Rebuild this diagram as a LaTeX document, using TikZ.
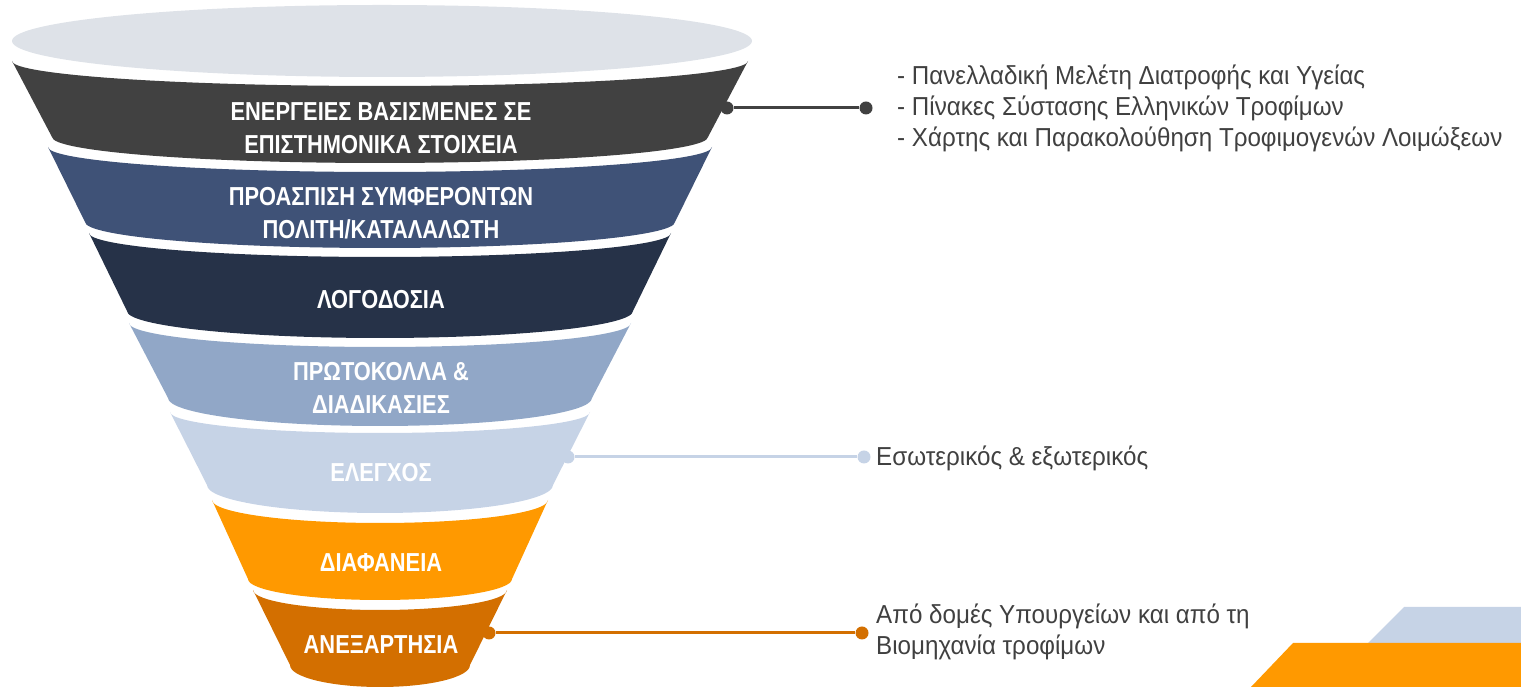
\documentclass[tikz,border=0pt]{standalone}
\usepackage{fontspec}
\setmainfont{Liberation Sans}
\newfontfamily\bandfont[FakeStretch=0.84]{Liberation Sans}
\newfontfamily\notefont[FakeStretch=0.93]{Liberation Sans}
\definecolor{rim}{HTML}{DEE2E8}
\definecolor{c1}{HTML}{414141}
\definecolor{c2}{HTML}{3F5277}
\definecolor{c3}{HTML}{263248}
\definecolor{c4}{HTML}{91A7C7}
\definecolor{c5}{HTML}{C6D3E6}
\definecolor{c6}{HTML}{FF9900}
\definecolor{c7}{HTML}{D36F00}
\definecolor{notegray}{HTML}{404040}
\begin{document}
\begin{tikzpicture}[x=1pt,y=1pt,
	band/.style={font=\bandfont\bfseries\fontsize{26}{33}\selectfont, text=white, align=center, inner sep=0},
	note/.style={font=\notefont\fontsize{26}{31}\selectfont, text=notegray, align=left, anchor=west, inner sep=0},
	dot/.style={circle, inner sep=0, minimum size=13pt}]
	\useasboundingbox (0,0) rectangle (1521,687);
	
	% funnel
	\fill[rim] (382,646) ellipse [x radius=370pt, y radius=36pt];
	\fill[c1] (12,626) arc[start angle=180, end angle=360, x radius=368pt, y radius=25pt] -- (708,550) arc[start angle=0, end angle=-180, x radius=328pt, y radius=26pt] -- cycle;
	\fill[c2] (48,540) arc[start angle=180, end angle=360, x radius=332pt, y radius=25pt] -- (675,465) arc[start angle=0, end angle=-180, x radius=295pt, y radius=26pt] -- cycle;
	\fill[c3] (89,454) arc[start angle=180, end angle=360, x radius=291pt, y radius=24pt] -- (633,376) arc[start angle=0, end angle=-180, x radius=253pt, y radius=27pt] -- cycle;
	\fill[c4] (129,364) arc[start angle=180, end angle=360, x radius=251pt, y radius=24pt] -- (592,289) arc[start angle=0, end angle=-180, x radius=212pt, y radius=28pt] -- cycle;
	\fill[c5] (170,275) arc[start angle=180, end angle=360, x radius=210pt, y radius=21pt] -- (553,202) arc[start angle=0, end angle=-180, x radius=173pt, y radius=28pt] -- cycle;
	\fill[c6] (212,187) arc[start angle=180, end angle=360, x radius=168pt, y radius=23pt] -- (512,108) arc[start angle=0, end angle=-180, x radius=132pt, y radius=21pt] -- cycle;
	\fill[c7] (253,97) arc[start angle=180, end angle=360, x radius=127pt, y radius=20pt] -- (470,22) arc[start angle=0, end angle=-180, x radius=90pt, y radius=22pt] -- cycle;
	
	\node (t1) [band] at (381,559) {ΕΝΕΡΓΕΙΕΣ ΒΑΣΙΣΜΕΝΕΣ ΣΕ\\ΕΠΙΣΤΗΜΟΝΙΚΑ ΣΤΟΙΧΕΙΑ};
	\node (t2) [band] at (381,474) {ΠΡΟΑΣΠΙΣΗ ΣΥΜΦΕΡΟΝΤΩΝ\\ΠΟΛΙΤΗ/ΚΑΤΑΛΑΛΩΤΗ};
	\node (t3) [band] at (381,387) {ΛΟΓΟΔΟΣΙΑ};
	\node (t4) [band] at (381,299) {ΠΡΩΤΟΚΟΛΛΑ \&\\ΔΙΑΔΙΚΑΣΙΕΣ};
	\node (t5) [band] at (381,214) {ΕΛΕΓΧΟΣ};
	\node (t6) [band] at (381,124) {ΔΙΑΦΑΝΕΙΑ};
	\node (t7) [band] at (381,42) {ΑΝΕΞΑΡΤΗΣΙΑ};
	
	% connectors
	\node (d1) [dot, fill=c1] at (727,579) {};
	\node (e1) [dot, fill=c1] at (866,579) {};
	\node (d5) [dot, fill=c5] at (568,230) {};
	\node (e5) [dot, fill=c5] at (864,230) {};
	\node (d7) [dot, fill=c7] at (489,54) {};
	\node (e7) [dot, fill=c7] at (862,54) {};
	\draw[c1, line width=3pt] (d1) -- (e1);
	\draw[c5, line width=3pt] (d5) -- (e5);
	\draw[c7, line width=3pt] (d7) -- (e7);
	
	\node (n1) [note] at (897,579) {- Πανελλαδική Μελέτη Διατροφής και Υγείας\\- Πίνακες Σύστασης Ελληνικών Τροφίμων\\- Χάρτης και Παρακολούθηση Τροφιμογενών Λοιμώξεων};
	\node (n5) [note] at (876,229) {Εσωτερικός \& εξωτερικός};
	\node (n7) [note] at (876,55) {Από δομές Υπουργείων και από τη\\Βιομηχανία τροφίμων};
	
	% corner
	\fill[c5] (1404,80) -- (1521,80) -- (1521,44) -- (1368,44) -- cycle;
	\fill[c6] (1293,44) -- (1521,44) -- (1521,0) -- (1251,0) -- cycle;
\end{tikzpicture}
\end{document}
